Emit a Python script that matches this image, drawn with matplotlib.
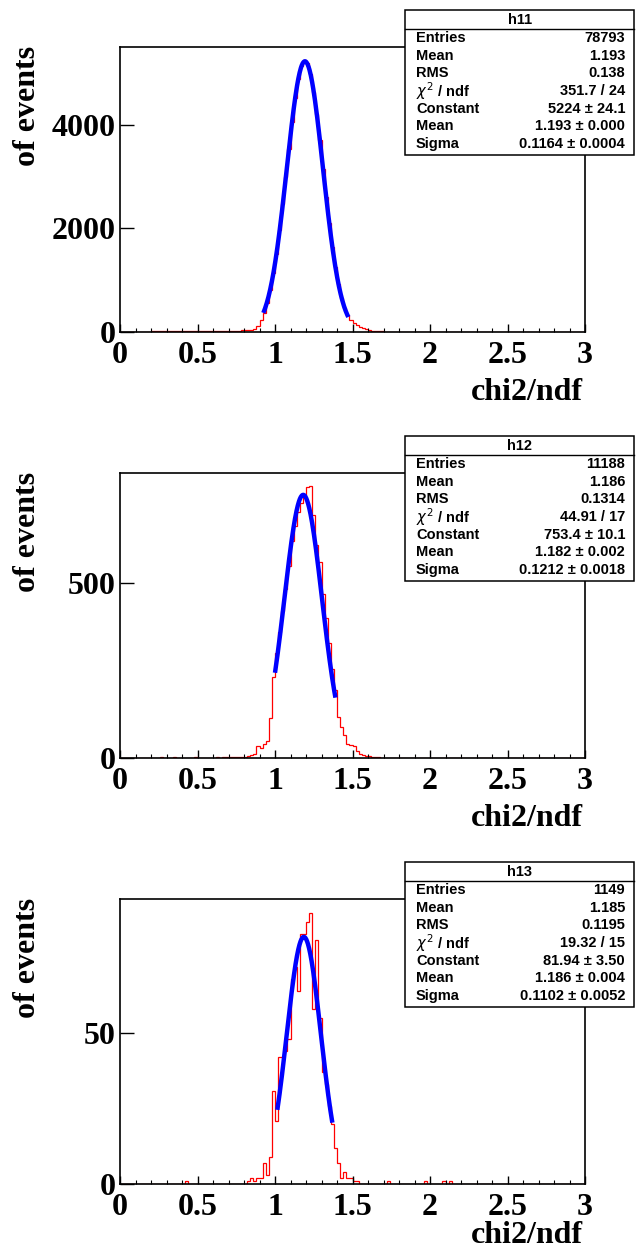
import numpy as np
import matplotlib
matplotlib.use('Agg')
import matplotlib.pyplot as plt
from matplotlib.patches import Rectangle
from matplotlib.lines import Line2D

W, H, DPI = 636, 1256, 100
SERIF = 'Liberation Serif'
SANS = 'Liberation Sans'

# 150 bins of width 0.02 between 0 and 3
bin_edges = np.linspace(0.0, 3.0, 151)

h11_counts = [
    0, 0, 0, 0, 0, 0, 1, 0, 2, 3,
    12, 18, 15, 20, 14, 17, 22, 19, 16, 21,
    18, 15, 20, 17, 14, 19, 16, 13, 18, 15,
    17, 14, 16, 19, 15, 18, 21, 24, 27, 33,
    36, 38, 42, 62, 125, 230, 370, 560, 820, 1130,
    1510, 1960, 2470, 3000, 3540, 4060, 4520, 4890, 5130, 5240,
    5190, 4980, 4640, 4200, 3700, 3150, 2610, 2100, 1640, 1250,
    920, 660, 460, 330, 240, 175, 135, 100, 75, 55,
    38, 28, 20, 15, 12, 9, 7, 6, 5, 4,
    4, 3, 3, 2, 2, 2, 2, 1, 2, 1,
    1, 1, 2, 1, 1, 0, 1, 1, 0, 1,
    1, 0, 1, 0, 1, 1, 0, 0, 1, 0,
    1, 0, 0, 1, 0, 0, 1, 0, 0, 0,
    1, 0, 0, 0, 1, 0, 0, 0, 0, 1,
    0, 0, 0, 1, 0, 0, 0, 0, 0, 0,
]

h12_counts = [
    0, 0, 0, 0, 0, 0, 0, 0, 0, 0,
    0, 1, 0, 2, 1, 0, 1, 2, 0, 1,
    1, 0, 1, 0, 2, 1, 0, 1, 0, 1,
    1, 2, 1, 2, 2, 3, 2, 3, 4, 3,
    4, 6, 9, 12, 33, 28, 40, 50, 115, 233,
    300, 360, 420, 485, 550, 620, 665, 705, 730, 750,
    775, 780, 695, 610, 560, 470, 400, 330, 255, 196,
    116, 90, 67, 40, 36, 33, 19, 12, 9, 6,
    5, 3, 2, 2, 1, 1, 0, 1, 0, 0,
    1, 0, 0, 0, 1, 0, 0, 0, 0, 1,
    0, 0, 0, 0, 0, 0, 1, 0, 0, 0,
    0, 0, 0, 0, 0, 0, 0, 0, 0, 0,
    0, 0, 0, 0, 0, 0, 0, 0, 0, 0,
    0, 0, 0, 0, 0, 0, 0, 0, 0, 0,
    0, 0, 0, 0, 0, 0, 0, 0, 0, 0,
]

h13_counts = [
    0, 0, 0, 0, 0, 0, 0, 0, 0, 0,
    0, 0, 0, 0, 0, 0, 0, 0, 0, 0,
    0, 1, 0, 0, 0, 0, 0, 0, 0, 0,
    0, 0, 0, 0, 0, 0, 0, 0, 0, 0,
    0, 1, 2, 1, 2, 2, 7, 3, 9, 31,
    21, 42, 42, 44, 48, 68, 72, 64, 83, 83,
    87, 90, 58, 81, 55, 37, 33, 26, 20, 12,
    7, 2, 4, 2, 2, 1, 1, 0, 0, 0,
    0, 0, 0, 0, 0, 0, 1, 0, 0, 0,
    0, 0, 0, 0, 0, 0, 0, 0, 1, 0,
    0, 0, 0, 0, 1, 0, 1, 0, 0, 0,
    0, 0, 0, 0, 0, 0, 0, 0, 0, 0,
    0, 0, 0, 0, 0, 0, 0, 0, 0, 0,
    0, 0, 0, 0, 0, 0, 0, 0, 0, 0,
    0, 0, 0, 0, 0, 0, 0, 0, 0, 0,
]

# gaussian fit: constant, mean, sigma ; fit range
fit_params = [(5224, 1.193, 0.1164), (753.4, 1.182, 0.1212), (81.94, 1.186, 0.1102)]
fit_ranges = [(0.925, 1.473), (1.0, 1.39), (1.015, 1.37)]

hist_names = ['h11', 'h12', 'h13']
y_max = [5500, 816, 94.5]
y_ticks = [[0, 2000, 4000], [0, 500], [0, 50]]
x_ticks = [0, 0.5, 1, 1.5, 2, 2.5, 3]
x_ticklabels = ['0', '0.5', '1', '1.5', '2', '2.5', '3']

stat_labels = ['Entries', 'Mean', 'RMS', r'$\chi^{2}$ / ndf', 'Constant', 'Mean', 'Sigma']
stat_values = [
    ['78793', '1.193', '0.138', '351.7 / 24', '5224 ± 24.1', '1.193 ± 0.000', '0.1164 ± 0.0004'],
    ['11188', '1.186', '0.1314', '44.91 / 17', '753.4 ± 10.1', '1.182 ± 0.002', '0.1212 ± 0.0018'],
    ['1149', '1.185', '0.1195', '19.32 / 15', '81.94 ± 3.50', '1.186 ± 0.004', '0.1102 ± 0.0052'],
]


def fx(px):
    return px / W


def fy(py):
    return 1 - py / H


fig = plt.figure(figsize=(W / DPI, H / DPI), dpi=DPI)
counts_all = [h11_counts, h12_counts, h13_counts]
title_base = [400, 826, 1243]

for i in range(3):
    off = 426 * i
    top, bot = 47 + off, 332 + off
    left, right = 120, 585
    ax = fig.add_axes([fx(left), fy(bot), fx(right) - fx(left), (bot - top) / H])
    ax.stairs(counts_all[i], bin_edges, color='red', lw=0.9)

    c, mu, sig = fit_params[i]
    xf = np.linspace(fit_ranges[i][0], fit_ranges[i][1], 200)
    ax.plot(xf, c * np.exp(-0.5 * ((xf - mu) / sig) ** 2), color='blue', lw=3.2,
            solid_capstyle='butt')

    ax.set_xlim(0, 3)
    ax.set_ylim(0, y_max[i])
    ax.set_xticks(x_ticks)
    ax.set_xticklabels(x_ticklabels)
    ax.set_xticks(np.arange(0, 3.01, 0.1), minor=True)
    ax.set_yticks(y_ticks[i])
    ax.set_yticklabels([str(v) for v in y_ticks[i]])
    ax.tick_params(axis='x', which='major', direction='in', length=6, width=1, pad=6.5,
                   labelsize=23)
    ax.tick_params(axis='x', which='minor', direction='in', length=3, width=0.8)
    ax.tick_params(axis='y', which='major', direction='in', length=10, width=1, pad=3,
                   labelsize=23)
    for lab in ax.get_xticklabels() + ax.get_yticklabels():
        lab.set_fontfamily(SERIF)
        lab.set_fontweight('bold')
    for sp in ax.spines.values():
        sp.set_linewidth(1.2)

    # axis titles
    fig.text(fx(583), fy(title_base[i]), 'chi2/ndf', ha='right', va='baseline',
             fontsize=23, fontfamily=SERIF, fontweight='bold')
    fig.text(fx(28), fy(46 + off), 'of events', ha='center', va='top', rotation=90,
             fontsize=23, fontfamily=SERIF, fontweight='bold')

    # stats box
    bx0, bx1 = 405, 634
    by0, by1 = 10 + off, 155 + off
    fig.patches.append(Rectangle((fx(bx0), fy(by1)), fx(bx1) - fx(bx0), (by1 - by0) / H,
                                 transform=fig.transFigure, facecolor='white',
                                 edgecolor='black', lw=1.1, zorder=5))
    fig.lines.append(Line2D([fx(bx0), fx(bx1)], [fy(by0 + 19), fy(by0 + 19)],
                            transform=fig.transFigure, color='black', lw=1.0, zorder=6))
    fig.text(fx(520), fy(by0 + 9.5), hist_names[i], ha='center', va='center',
             fontsize=10.5, fontfamily=SANS, fontweight='bold', zorder=7)
    for k in range(7):
        yy = fy(by0 + 28 + 17.7 * k)
        fig.text(fx(416), yy, stat_labels[k], ha='left', va='center',
                 fontsize=10.5, fontfamily=SANS, fontweight='bold', zorder=7)
        fig.text(fx(625), yy, stat_values[i][k], ha='right', va='center',
                 fontsize=10.5, fontfamily=SANS, fontweight='bold', zorder=7)

fig.savefig('out.png', dpi=DPI)
